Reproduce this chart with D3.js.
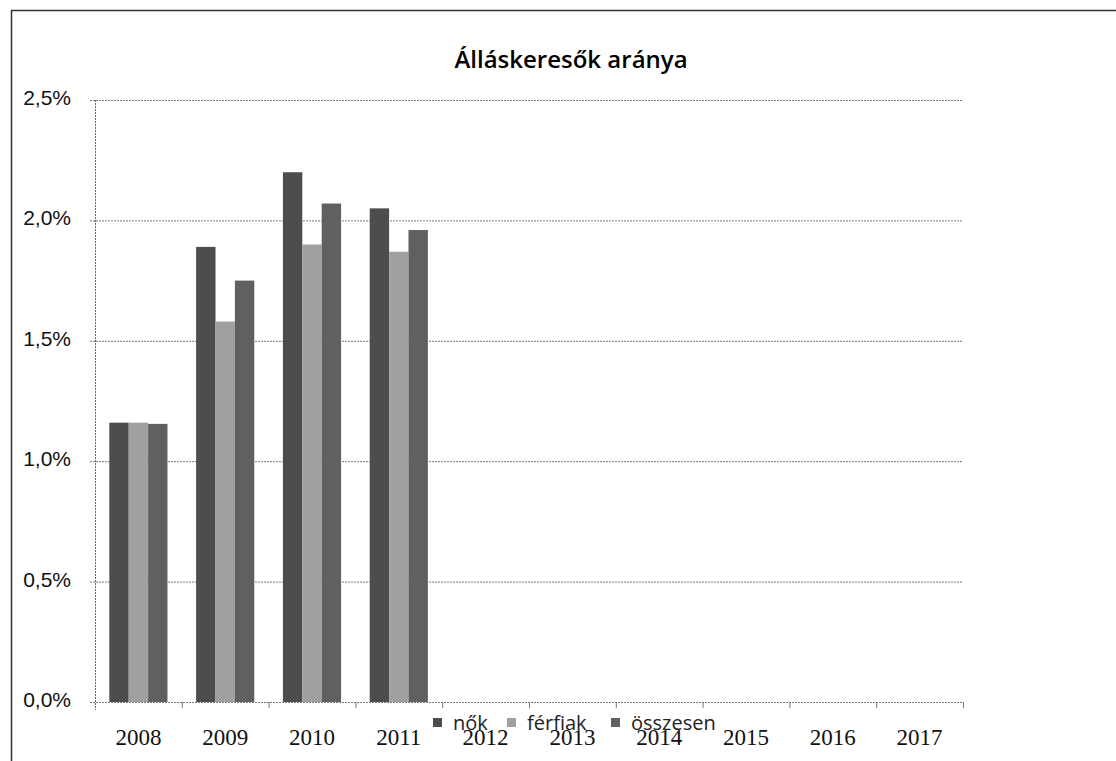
<!DOCTYPE html>
<html>
<head>
<meta charset="utf-8">
<script src="https://cdn.jsdelivr.net/npm/d3@7"></script>
<style>
  body { margin: 0; background: #fff; }
  #chart { width: 1116px; height: 761px; }
  .x-label { font-family: "Liberation Serif", serif; font-size: 23px; fill: #111; }
  .y-label { font-family: "Liberation Sans", sans-serif; font-size: 21px; fill: #111; }
</style>
</head>
<body>
<div id="chart"></div>
<script>
  // Data (percent)
  const years = ["2008", "2009", "2010", "2011", "2012", "2013", "2014", "2015", "2016", "2017"];
  const nok = [1.16, 1.89, 2.20, 2.05, null, null, null, null, null, null];
  const ferfiak = [1.16, 1.58, 1.90, 1.87, null, null, null, null, null, null];
  const osszesen = [1.155, 1.75, 2.07, 1.96, null, null, null, null, null, null];
  const seriesNames = ["nők", "férfiak", "összesen"];
  const yTicks = [0, 0.5, 1.0, 1.5, 2.0, 2.5];

  const colors = ["#4d4d4d", "#a0a0a0", "#606060"];

  const width = 1116, height = 761;
  const margin = { top: 100, right: 153, bottom: 59, left: 95 };
  const innerW = width - margin.left - margin.right;
  const innerH = height - margin.top - margin.bottom;

  const hu = d3.formatLocale({ decimal: ",", thousands: " ", grouping: [3], currency: ["", " Ft"] });
  const fmt = v => hu.format(".1f")(v) + "%";

  const svg = d3.select("#chart")
      .append("svg")
      .attr("width", width)
      .attr("height", height);

  // Outer chart frame (runs off the right/bottom edge of the scan)
  svg.append("rect")
      .attr("x", 11.5)
      .attr("y", 10.5)
      .attr("width", width + 20)
      .attr("height", height + 20)
      .attr("fill", "none")
      .attr("stroke", "#333")
      .attr("stroke-width", 1.5);

  const g = svg.append("g")
      .attr("transform", `translate(${margin.left}, ${margin.top})`);

  const x = d3.scaleBand()
      .domain(years)
      .range([0, innerW])
      .paddingInner(0.33)
      .paddingOuter(0.165);

  const xBand = d3.scaleBand()
      .domain(years)
      .range([0, innerW]);

  const xSub = d3.scaleBand()
      .domain(seriesNames)
      .range([0, x.bandwidth()]);

  const y = d3.scaleLinear()
      .domain([0, 2.5])
      .range([innerH, 0]);

  // Gridlines
  g.append("g")
      .selectAll("line")
      .data(yTicks)
      .enter().append("line")
      .attr("x1", -5)
      .attr("x2", innerW)
      .attr("y1", d => y(d) + 0.5)
      .attr("y2", d => y(d) + 0.5)
      .attr("stroke", "#777")
      .attr("stroke-width", 1)
      .attr("stroke-dasharray", "2,1");

  // Y axis labels
  g.append("g")
      .selectAll("text")
      .data(yTicks)
      .enter().append("text")
      .attr("class", "y-label")
      .attr("x", -24)
      .attr("y", d => y(d) + 5)
      .attr("text-anchor", "end")
      .text(fmt);

  // Y axis line
  g.append("line")
      .attr("x1", 0.5).attr("x2", 0.5)
      .attr("y1", 0).attr("y2", innerH + 8)
      .attr("stroke", "#666")
      .attr("stroke-dasharray", "2,1");

  // X axis ticks at category boundaries
  g.append("g")
      .selectAll("line")
      .data(years)
      .enter().append("line")
      .attr("x1", d => xBand(d) + xBand.bandwidth() + 0.5)
      .attr("x2", d => xBand(d) + xBand.bandwidth() + 0.5)
      .attr("y1", innerH)
      .attr("y2", innerH + 6)
      .attr("stroke", "#777");

  // X labels
  g.append("g")
      .selectAll("text")
      .data(years)
      .enter().append("text")
      .attr("class", "x-label")
      .attr("x", d => xBand(d) + xBand.bandwidth() / 2)
      .attr("y", innerH + 43)
      .attr("text-anchor", "middle")
      .text(d => d);

  // Bars
  const seriesData = [nok, ferfiak, osszesen];
  seriesNames.forEach((name, si) => {
      g.append("g")
          .attr("fill", colors[si])
          .selectAll("rect")
          .data(years.map((yr, i) => ({ yr, v: seriesData[si][i] })).filter(d => d.v !== null))
          .enter().append("rect")
          .attr("x", d => x(d.yr) + xSub(name))
          .attr("y", d => y(d.v))
          .attr("width", xSub.bandwidth())
          .attr("height", d => innerH - y(d.v));
  });

  // Title
  svg.append("text")
      .attr("x", 571)
      .attr("y", 68)
      .attr("text-anchor", "middle")
      .style("font-family", "'Open Sans', sans-serif")
      .style("font-size", "24px")
      .style("font-weight", "600")
      .text("Álláskeresők aránya");

  // Legend (overlaps the x labels, as in the original)
  const legendX = [433, 507, 611];
  const legend = svg.selectAll(".legend")
      .data(seriesNames)
      .enter().append("g")
      .attr("class", "legend")
      .attr("transform", (d, i) => `translate(${legendX[i]}, 718)`);

  legend.append("rect")
      .attr("width", 9)
      .attr("height", 9)
      .attr("fill", (d, i) => colors[i]);

  legend.append("text")
      .attr("x", 20)
      .attr("y", 12)
      .style("font-family", "'Open Sans', sans-serif")
      .style("font-size", "20px")
      .style("fill", "#222")
      .text(d => d);
</script>
</body>
</html>
